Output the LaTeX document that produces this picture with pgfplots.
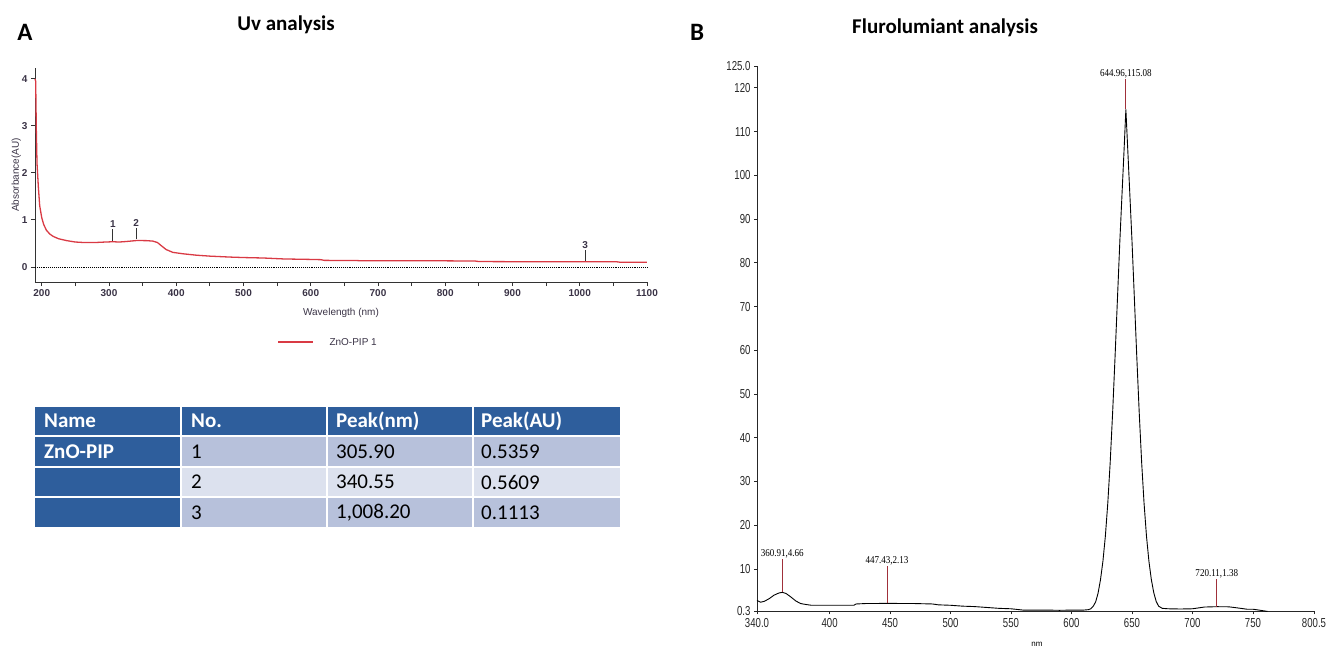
\documentclass[border=0pt]{standalone}
\usepackage{pgfplots}
\pgfplotsset{compat=1.18}
\usepackage{fontspec}
\usepackage{graphicx}
\setmainfont{Liberation Sans}
\newfontfamily\calib{Carlito}
\newfontfamily\tms{Liberation Serif}
\definecolor{uvred}{HTML}{D93A44}
\definecolor{tickc}{HTML}{3A3346}
\definecolor{hdr}{HTML}{2E5E9C}
\definecolor{lite}{HTML}{B7C1DB}
\definecolor{lite2}{HTML}{DCE1EE}
\definecolor{pk}{HTML}{A0303A}
\newcommand\nar[1]{\scalebox{0.74}[1]{#1}}
\newcommand\pl[1]{\scalebox{0.86}[1]{\tms\fontsize{10.5}{10.5}\selectfont #1}}
\pgfplotstableread{
x y
190 4.0
191 3.95
192 2.9
193 2.2
195 1.7
197 1.3
200 1.05
203 0.9
207 0.78
212 0.7
217 0.65
225 0.6
237 0.56
250 0.53
262 0.52
280 0.52
295 0.53
305.9 0.536
315 0.53
325 0.54
340.55 0.561
355 0.56
365 0.55
372 0.52
378 0.45
385 0.37
395 0.31
410 0.28
430 0.25
450 0.23
480 0.21
500 0.2
530 0.19
560 0.17
600 0.16
615 0.155
620 0.14
670 0.135
675 0.13
800 0.13
845 0.125
850 0.115
900 0.112
1008.2 0.1113
1055 0.11
1060 0.1
1100 0.098
}\uvdata
\pgfplotstableread{
x y
340 2.8
343 2.4
346 2.6
350 3.2
354 4.0
358 4.5
360.91 4.66
364 4.4
368 3.6
372 2.7
376 2.1
380 1.9
385 1.7
400 1.7
420 1.7
422 2.0
430 2.1
447.43 2.13
470 2.1
485 2.0
490 1.8
500 1.7
510 1.5
520 1.4
530 1.2
540 1.0
550 0.9
560 0.6
570 0.6
580 0.6
590 0.55
600 0.6
610 0.6
614 0.7
616 0.9
618 1.5
620 2.5
622 4.5
624 7.6
626 11.8
628 17.5
630 25.0
632 34.4
634 45.7
636 58.4
638 71.8
640 85.1
642 97.1
643.5 106
644.96 115.08
646.5 106
648 97.1
650 85.1
652 71.8
654 58.4
656 45.7
658 34.4
660 25.0
662 17.5
664 11.8
666 7.6
668 4.6
670 2.6
672 1.5
675 1.0
680 0.9
690 0.85
700 0.9
705 1.1
710 1.3
720.11 1.38
730 1.35
740 1.0
745 0.8
750 0.8
755 0.6
762 0.3
}\fldata
\begin{document}
\begin{tikzpicture}
\useasboundingbox (0,0) rectangle (1330pt,649pt);
% titles
\node[font=\calib\bfseries\fontsize{25}{25}\selectfont] at (25pt,617pt) {A};
\node[font=\calib\bfseries\fontsize{21}{21}\selectfont] at (286pt,624pt) {Uv analysis};
\node[font=\calib\bfseries\fontsize{25}{25}\selectfont] at (697pt,617pt) {B};
\node[font=\calib\bfseries\fontsize{21}{21}\selectfont] at (945pt,621pt) {Flurolumiant analysis};

% ---------- UV plot
\begin{axis}[scale only axis, width=612pt, height=214pt, at={(35pt,367pt)}, anchor=south west,
  xmin=190, xmax=1100, ymin=-0.32, ymax=4.23,
  axis x line*=bottom, axis y line*=left,
  axis line style={-, line width=0.9pt, black!80},
  xtick={200,300,...,1100}, minor xtick={250,350,...,1050}, ytick={0,1,2,3,4},
  tick style={black!80, line width=0.9pt}, tick align=outside,
  major tick length=4pt, minor tick length=4pt,
  /pgf/number format/assume math mode=true,
  /pgf/number format/1000 sep={},
  ticklabel style={font=\bfseries\fontsize{10}{12}\selectfont, text=tickc},
  xlabel={Wavelength (nm)}, ylabel={Absorbance(AU)},
  label style={font=\fontsize{10}{12}\selectfont, text=tickc},
  xlabel style={yshift=-5pt},
  ylabel style={yshift=-6pt},
  clip=false]
\addplot[densely dotted, line width=0.9pt, black] coordinates {(190,0) (1100,0)};
\addplot[uvred, line width=1.3pt] table[x=x,y=y] {\uvdata};
\addplot[black!80, line width=0.9pt] coordinates {(305.9,0.56) (305.9,0.80)};
\addplot[black!80, line width=0.9pt] coordinates {(340.55,0.59) (340.55,0.82)};
\addplot[black!80, line width=0.9pt] coordinates {(1008.2,0.13) (1008.2,0.35)};
\node[above, inner sep=1pt, font=\bfseries\fontsize{10}{12}\selectfont, text=tickc] at (axis cs:305.9,0.82) {1};
\node[above, inner sep=1pt, font=\bfseries\fontsize{10}{12}\selectfont, text=tickc] at (axis cs:340.55,0.84) {2};
\node[above, inner sep=1pt, font=\bfseries\fontsize{10}{12}\selectfont, text=tickc] at (axis cs:1008.2,0.37) {3};
\end{axis}
% legend
\draw[uvred, line width=1.3pt] (278pt,307pt) -- (313pt,307pt);
\node[anchor=west, font=\fontsize{10}{12}\selectfont, text=tickc] at (326pt,307pt) {ZnO-PIP 1};

% ---------- table
\fill[hdr] (35pt,214pt) rectangle (180pt,242pt);
\fill[hdr] (182pt,214pt) rectangle (326pt,242pt);
\fill[hdr] (328pt,214pt) rectangle (472pt,242pt);
\fill[hdr] (474pt,214pt) rectangle (620pt,242pt);
\fill[hdr] (35pt,183pt) rectangle (180pt,212pt);
\fill[lite] (182pt,183pt) rectangle (326pt,212pt);
\fill[lite] (328pt,183pt) rectangle (472pt,212pt);
\fill[lite] (474pt,183pt) rectangle (620pt,212pt);
\fill[hdr] (35pt,153pt) rectangle (180pt,181pt);
\fill[lite2] (182pt,153pt) rectangle (326pt,181pt);
\fill[lite2] (328pt,153pt) rectangle (472pt,181pt);
\fill[lite2] (474pt,153pt) rectangle (620pt,181pt);
\fill[hdr] (35pt,122pt) rectangle (180pt,151pt);
\fill[lite] (182pt,122pt) rectangle (326pt,151pt);
\fill[lite] (328pt,122pt) rectangle (472pt,151pt);
\fill[lite] (474pt,122pt) rectangle (620pt,151pt);
\begin{scope}[every node/.style={anchor=west, inner sep=0pt, font=\calib\fontsize{21}{21}\selectfont}]
\node[text=white, font=\calib\bfseries\fontsize{21}{21}\selectfont] at (44pt,228pt) {Name};
\node[text=white, font=\calib\bfseries\fontsize{21}{21}\selectfont] at (191pt,228pt) {No.};
\node[text=white, font=\calib\bfseries\fontsize{21}{21}\selectfont] at (336pt,228pt) {Peak(nm)};
\node[text=white, font=\calib\bfseries\fontsize{21}{21}\selectfont] at (481pt,228pt) {Peak(AU)};
\node[text=white, font=\calib\bfseries\fontsize{21}{21}\selectfont] at (44pt,197.5pt) {ZnO-PIP};
\node at (191pt,197.5pt) {1};
\node at (336pt,197.5pt) {305.90};
\node at (481pt,197.5pt) {0.5359};
\node at (191pt,167pt) {2};
\node at (336pt,167pt) {340.55};
\node at (481pt,167pt) {0.5609};
\node at (191pt,136.5pt) {3};
\node at (336pt,136.5pt) {1,008.20};
\node at (481pt,136.5pt) {0.1113};
\end{scope}

% ---------- fluorescence plot
\begin{axis}[scale only axis, width=557pt, height=545.4pt, at={(757pt,37.6pt)}, anchor=south west,
  xmin=340, xmax=800.5, ymin=0.3, ymax=125,
  axis x line*=bottom, axis y line*=left,
  axis line style={-, line width=0.8pt, black!85},
  xtick={340,400,450,500,550,600,650,700,750,800.5},
  xticklabels={\nar{340.0},\nar{400},\nar{450},\nar{500},\nar{550},\nar{600},\nar{650},\nar{700},\nar{750},\nar{800.5}},
  ytick={0.3,10,20,30,40,50,60,70,80,90,100,110,120,125},
  yticklabels={\nar{0.3},\nar{10},\nar{20},\nar{30},\nar{40},\nar{50},\nar{60},\nar{70},\nar{80},\nar{90},\nar{100},\nar{110},\nar{120},\nar{125.0}},
  tick style={black!85, line width=0.8pt}, tick align=outside, major tick length=3pt,
  ticklabel style={font=\fontsize{13}{14}\selectfont, text=black!85},
  clip=false]
\addplot[black, line width=0.9pt] table[x=x,y=y] {\fldata};
\addplot[pk, line width=0.9pt] coordinates {(360.91,4.66) (360.91,12.2)};
\addplot[pk, line width=0.9pt] coordinates {(447.43,2.13) (447.43,10.6)};
\addplot[pk, line width=0.9pt] coordinates {(644.96,115.08) (644.96,122.0)};
\addplot[pk, line width=0.9pt] coordinates {(720.11,1.38) (720.11,7.6)};
\node[above, inner sep=1pt] at (axis cs:360.91,12.2) {\pl{360.91,4.66}};
\node[above, inner sep=1pt] at (axis cs:447.43,10.6) {\pl{447.43,2.13}};
\node[above, inner sep=1pt] at (axis cs:644.96,122.0) {\pl{644.96,115.08}};
\node[above, inner sep=1pt] at (axis cs:720.11,7.6) {\pl{720.11,1.38}};
\end{axis}
\node[font=\fontsize{8}{9}\selectfont] at (1037pt,5pt) {nm};
\end{tikzpicture}
\end{document}
